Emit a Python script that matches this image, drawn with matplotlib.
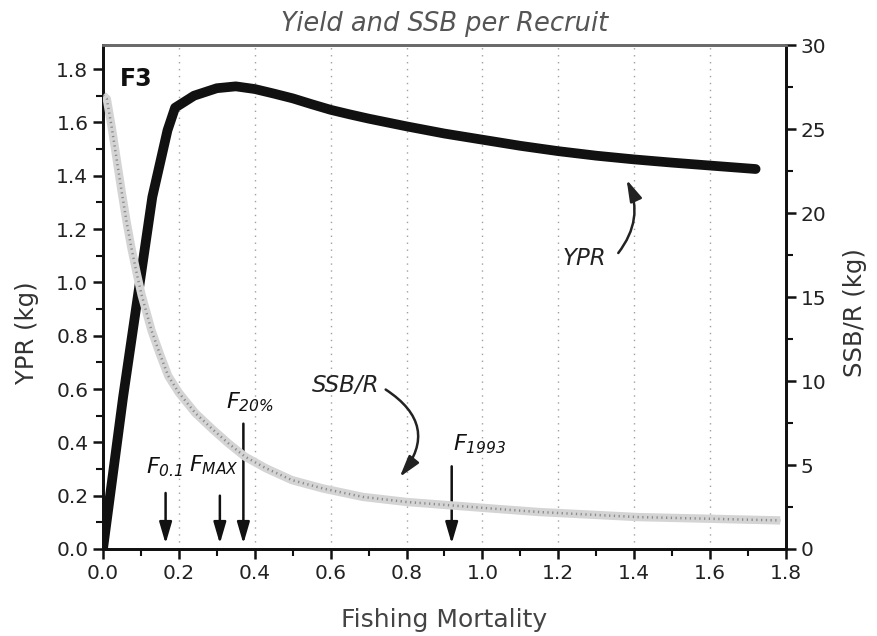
import matplotlib
matplotlib.use("Agg")
import matplotlib.pyplot as plt
from matplotlib.ticker import MultipleLocator

plt.rcParams['font.family'] = 'DejaVu Sans'
plt.rcParams['mathtext.fontset'] = 'custom'
plt.rcParams['mathtext.rm'] = 'DejaVu Sans:italic'
plt.rcParams['mathtext.it'] = 'DejaVu Sans:italic'

# %% Yield per recruit (left axis, kg)
f_ypr = [0.0, 0.053, 0.09, 0.13, 0.17, 0.19, 0.24, 0.30, 0.35, 0.40, 0.45,
         0.50, 0.55, 0.60, 0.65, 0.70, 0.80, 0.90, 1.00, 1.10, 1.20, 1.30,
         1.40, 1.50, 1.60, 1.72]
ypr = [0.0, 0.57, 0.93, 1.32, 1.57, 1.655, 1.70, 1.728, 1.735, 1.725, 1.708,
       1.69, 1.668, 1.647, 1.63, 1.614, 1.585, 1.558, 1.535, 1.512, 1.492,
       1.475, 1.461, 1.449, 1.438, 1.425]

# %% Spawning stock biomass per recruit (right axis, kg)
f_ssb = [0.0, 0.01, 0.023, 0.036, 0.049, 0.062, 0.075, 0.089, 0.102, 0.128,
         0.15, 0.172, 0.20, 0.243, 0.29, 0.33, 0.374, 0.43, 0.498, 0.58,
         0.685, 0.80, 0.915, 1.03, 1.15, 1.28, 1.41, 1.60, 1.785]
ssb = [27.0, 26.8, 25.1, 23.2, 21.3, 19.5, 17.9, 16.4, 15.1, 13.0,
       11.6, 10.3, 9.3, 8.1, 7.1, 6.3, 5.5, 4.8, 4.1, 3.6,
       3.1, 2.8, 2.6, 2.4, 2.2, 2.05, 1.9, 1.8, 1.7]

# %% Reference points (F) and where their arrows start (YPR units)
ref_names = [r'$F_{0.1}$', r'$F_{MAX}$', r'$F_{20\%}$', r'$F_{1993}$']
ref_f = [0.165, 0.308, 0.370, 0.919]
ref_top = [0.21, 0.20, 0.47, 0.31]
ref_text_xy = [(0.114, 0.285), (0.227, 0.29), (0.325, 0.528), (0.922, 0.371)]

fig = plt.figure(figsize=(8.78, 6.36), dpi=100)
ax = fig.add_axes([0.1173, 0.1368, 0.7779, 0.7924])
ax2 = ax.twinx()

ax.plot(f_ypr, ypr, color='#111111', lw=7, solid_capstyle='round',
        solid_joinstyle='round', zorder=3)
# stippled band for SSB/R
ax2.plot(f_ssb, ssb, color='#d4d4d4', lw=6, solid_capstyle='butt', zorder=3)
ax2.plot(f_ssb, ssb, color='#8a8a8a', lw=1.8, linestyle=(0, (0.5, 1.4)), zorder=4)

ax.set_xlim(0, 1.8)
ax.set_ylim(0, 1.89)
ax2.set_ylim(0, 30)

ax.xaxis.set_major_locator(MultipleLocator(0.2))
ax.xaxis.set_minor_locator(MultipleLocator(0.1))
ax.yaxis.set_major_locator(MultipleLocator(0.2))
ax.yaxis.set_minor_locator(MultipleLocator(0.1))
ax2.yaxis.set_major_locator(MultipleLocator(5))
ax2.yaxis.set_minor_locator(MultipleLocator(2.5))
ax.xaxis.set_major_formatter(lambda v, p: f'{v:.1f}')
ax.yaxis.set_major_formatter(lambda v, p: f'{v:.1f}')

ax.grid(axis='x', which='major', linestyle=(0, (1, 4)), color='#a0a0a0', lw=1.0)

for a in (ax, ax2):
    a.tick_params(which='major', direction='out', length=7, width=1.8,
                  labelsize=14.5, colors='#111111', labelcolor='#222222')
    a.tick_params(which='minor', direction='out', length=5, width=1.5,
                  colors='#111111')
    for side in ('left', 'bottom', 'right'):
        a.spines[side].set_linewidth(2)
        a.spines[side].set_color('#111111')
    a.spines['top'].set_linewidth(2)
    a.spines['top'].set_color('#6a6a6a')

ax.set_xlabel('Fishing Mortality', fontsize=18, color='#444444', labelpad=18)
ax.set_ylabel('YPR (kg)', fontsize=17.5, color='#333333')
ax2.set_ylabel('SSB/R (kg)', fontsize=17.5, color='#333333')
ax.yaxis.set_label_coords(-0.094, 0.43)
ax2.yaxis.set_label_coords(1.083, 0.47)
ax.set_title('Yield and SSB per Recruit', fontsize=18.5, style='italic',
             color='#555555', pad=10)

ax.text(0.045, 1.738, 'F3', fontsize=17, fontweight='bold', color='#111111')

arrow_style = '-|>,head_length=1.3,head_width=0.38'

# reference point arrows
for name, f, top, (tx, ty) in zip(ref_names, ref_f, ref_top, ref_text_xy):
    ax.annotate('', xy=(f, 0.02), xytext=(f, top),
                arrowprops=dict(arrowstyle=arrow_style, color='#111111',
                                lw=1.8, shrinkA=0, shrinkB=0))
    ax.text(tx, ty, name, fontsize=16, color='#111111', va='baseline')

# curve labels with bent arrows
ax.text(0.551, 0.588, 'SSB/R', fontsize=16.5, style='italic', color='#222222',
        va='baseline')
ax.annotate('', xy=(0.782, 0.27), xytext=(0.745, 0.598),
            arrowprops=dict(arrowstyle=arrow_style,
                            connectionstyle='arc3,rad=-0.55',
                            color='#222222', lw=1.8, shrinkA=0, shrinkB=0))
ax.text(1.212, 1.064, 'YPR', fontsize=16.5, style='italic', color='#222222',
        va='baseline')
ax.annotate('', xy=(1.38, 1.385), xytext=(1.358, 1.11),
            arrowprops=dict(arrowstyle=arrow_style,
                            connectionstyle='arc3,rad=0.3',
                            color='#222222', lw=1.8, shrinkA=0, shrinkB=0))

plt.savefig('out.png', dpi=100)
